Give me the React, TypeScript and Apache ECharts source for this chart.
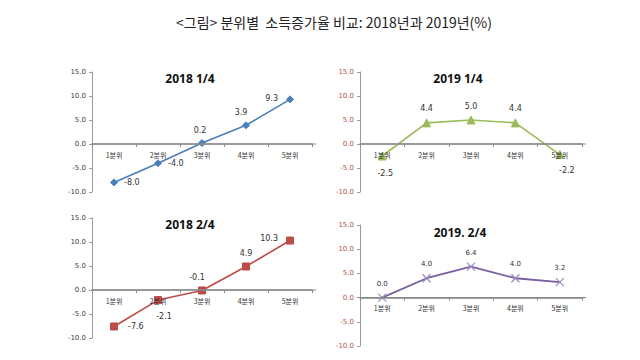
import React, { useEffect, useRef } from "react";
import * as echarts from "echarts";

const categories = ["1분위", "2분위", "3분위", "4분위", "5분위"];
const yTicks = [-10, -5, 0, 5, 10, 15];
const panelTitles = ["2018 1/4", "2019 1/4", "2018 2/4", "2019. 2/4"];
const values2018Q1 = [-8.0, -4.0, 0.2, 3.9, 9.3];
const values2019Q1 = [-2.5, 4.4, 5.0, 4.4, -2.2];
const values2018Q2 = [-7.6, -2.1, -0.1, 4.9, 10.3];
const values2019Q2 = [0.0, 4.0, 6.4, 4.0, 3.2];
const mainTitle = "<그림> 분위별  소득증가율 비교: 2018년과 2019년(%)";

const KR = '"Noto Sans CJK KR", "Noto Sans", sans-serif';

export default function App() {
  const ref = useRef<HTMLDivElement>(null);
  useEffect(() => {
    const chart = echarts.init(ref.current!, null, { renderer: "svg" });

    const grids = [
      { left: 92, top: 72, width: 220, height: 120 },
      { left: 360, top: 72, width: 222, height: 120 },
      { left: 92, top: 218, width: 220, height: 120 },
      { left: 360, top: 225, width: 222, height: 121 },
    ];
    const yMin = yTicks[0];
    const yMax = yTicks[yTicks.length - 1];
    const yLabelColors = ["#404040", "#b4504c", "#404040", "#b4504c"];
    const colors = ["#4a7ebb", "#9bbb59", "#be4b48", "#7a5fa0"];
    const symbols = [
      "diamond",
      "triangle",
      "rect",
      "path://M0,0L10,10M10,0L0,10",
    ];
    const symbolSizes = [7, 8, 7, 8];
    const seriesVals = [values2018Q1, values2019Q1, values2018Q2, values2019Q2];
    const labelPos: any[][] = [
      [
        { position: "right", distance: 6 },
        { position: "right", distance: 6 },
        { position: "top", distance: 5, offset: [-2, 0] },
        { position: "top", distance: 5, offset: [-5, 0] },
        { position: "left", distance: 8, offset: [0, -1] },
      ],
      [
        { position: "bottom", distance: 9, offset: [3, 0] },
        { position: "top", distance: 6 },
        { position: "top", distance: 5 },
        { position: "top", distance: 6 },
        { position: "bottom", distance: 7, offset: [7, 0] },
      ],
      [
        { position: "right", distance: 10 },
        { position: "bottom", distance: 8, offset: [6, 0] },
        { position: "top", distance: 5, offset: [-5, 0] },
        { position: "top", distance: 5 },
        { position: "left", distance: 8, offset: [0, -2] },
      ],
      [
        { position: "top", distance: 4 },
        { position: "top", distance: 4 },
        { position: "top", distance: 4 },
        { position: "top", distance: 4 },
        { position: "top", distance: 4 },
      ],
    ];

    const xAxis = grids.map((g, i) => ({
      type: "category",
      gridIndex: i,
      data: categories,
      boundaryGap: true,
      position: "bottom",
      offset: -((0 - yMin) / (yMax - yMin)) * g.height,
      axisLine: {
        show: true,
        onZero: false,
        lineStyle: { color: "#8a8a8a", width: 1.5 },
      },
      axisTick: { show: true, length: 3, lineStyle: { color: "#8a8a8a" } },
      axisLabel: {
        fontSize: 7,
        color: "#333",
        margin: 7,
        fontFamily: KR,
      },
      z: 5,
    }));

    const yAxis = grids.map((_, i) => ({
      type: "value",
      gridIndex: i,
      min: yMin,
      max: yMax,
      interval: 5,
      axisLine: { show: true, lineStyle: { color: "#9a9a9a", width: 1 } },
      axisTick: { show: true, length: 3, lineStyle: { color: "#9a9a9a" } },
      splitLine: { show: false },
      axisLabel: {
        fontSize: 7,
        color: yLabelColors[i],
        margin: 6,
        fontFamily: "Verdana, DejaVu Sans, sans-serif",
        formatter: (v: number) => v.toFixed(1),
      },
    }));

    const series = seriesVals.map((vals, i) => ({
      type: "line",
      xAxisIndex: i,
      yAxisIndex: i,
      data: vals.map((v, j) => ({
        value: v,
        label: { show: true, ...labelPos[i][j] },
      })),
      symbol: symbols[i],
      symbolSize: symbolSizes[i],
      lineStyle: { color: colors[i], width: i === 3 ? 1.8 : 1.6 },
      itemStyle:
        i === 3
          ? { color: "none", borderColor: "#9a8cc0", borderWidth: 1.2 }
          : { color: colors[i], borderColor: colors[i] },
      label: {
        show: true,
        fontSize: i === 3 ? 7 : 8,
        color: "#333",
        fontFamily: "Verdana, DejaVu Sans, sans-serif",
        formatter: (p: any) => Number(p.value).toFixed(1),
      },
      z: 3,
    }));

    const titleCenters = [
      [190, 78],
      [458, 78],
      [190, 224],
      [460, 232],
    ];

    const baseGraphic: any[] = [
      {
        type: "text",
        x: 334,
        y: 22,
        style: {
          text: mainTitle,
          fontSize: 14,
          fontFamily: KR,
          fill: "#222",
          align: "center",
          verticalAlign: "middle",
        },
      },
      ...panelTitles.map((t, i) => ({
        type: "text",
        x: titleCenters[i][0],
        y: titleCenters[i][1],
        style: {
          text: t,
          fontSize: 12,
          fontWeight: "bold",
          fontFamily: "Noto Sans, sans-serif",
          fill: "#111",
          align: "center",
          verticalAlign: "middle",
        },
      })),
    ];

    chart.setOption({
      animation: false,
      backgroundColor: "#ffffff",
      grid: grids,
      xAxis,
      yAxis,
      series,
      graphic: baseGraphic,
    });

    // Zero baselines placed through the library's own scales
    const zeroLines: any[] = grids.map((g, i) => {
      const yPix = chart.convertToPixel({ yAxisIndex: i }, 0) as number;
      return {
        type: "line",
        z: 1,
        shape: { x1: g.left, y1: yPix, x2: g.left + g.width + 4, y2: yPix },
        style: { stroke: "#8a8a8a", lineWidth: 1.2 },
      };
    });
    chart.setOption({ graphic: [...baseGraphic, ...zeroLines] });

    return () => chart.dispose();
  }, []);
  return (
    <div
      ref={ref}
      style={{ position: "absolute", left: 0, top: 0, width: 640, height: 360 }}
    />
  );
}
